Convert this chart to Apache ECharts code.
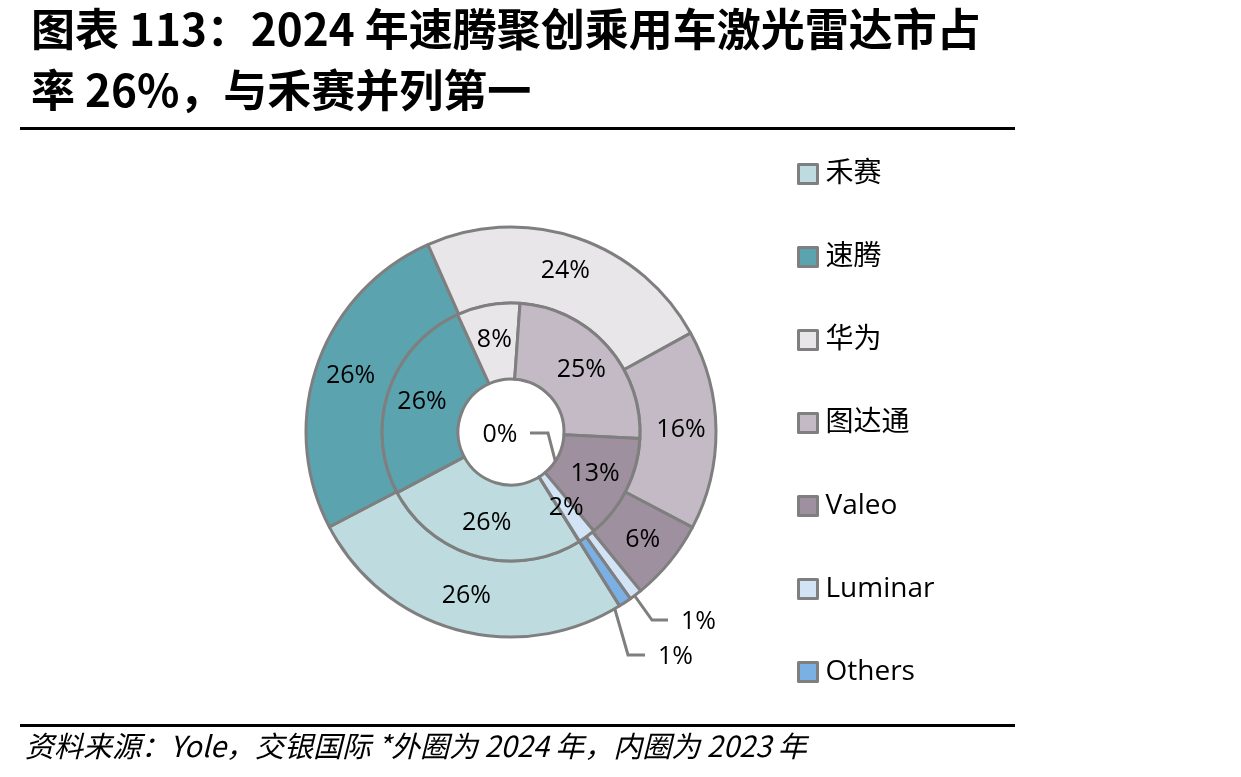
<!DOCTYPE html>
<html><head><meta charset="utf-8">
<script src="https://cdn.jsdelivr.net/npm/echarts@6/dist/echarts.min.js"></script>
<style>html,body{margin:0;padding:0;background:#fff;} #chart{width:1241px;height:777px;}</style>
</head><body><div id="chart"></div>
<script>
// ---- data ----
const categories = ['禾赛', '速腾', '华为', '图达通', 'Valeo', 'Luminar', 'Others'];
const share2024 = [26.2, 26.0, 23.6, 15.7, 6.4, 1.0, 1.0];   // outer ring
const share2023 = [26.1, 26.0, 7.9, 24.7, 13.1, 2.2, 0];     // inner ring
const colors = ['#BEDCDF', '#5BA3AF', '#E9E6EA', '#C3BAC6', '#9F909F', '#D1E3F4', '#7AB0E4'];
const titleText = '图表 113：2024 年速腾聚创乘用车激光雷达市占\n率 26%，与禾赛并列第一';
const sourceText = '资料来源：Yole，交银国际 *外圈为 2024 年，内圈为 2023 年';

// ---- layout / style ----
const CX = 511, CY = 432;
const BORDER = '#7F7F7F';
const LABEL_FONT = '"Open Sans", "Noto Sans", sans-serif';
const CJK_FONT = '"Noto Sans CJK SC", "Noto Sans", sans-serif';

function pct(p) { return Math.round(p.value) + '%'; }
function unit(pt) {
  const dx = pt[0] - CX, dy = pt[1] - CY;
  const l = Math.hypot(dx, dy) || 1;
  return [dx / l, dy / l];
}
function polarFrom(pt, r) { const n = unit(pt); return [CX + n[0] * r, CY + n[1] * r]; }

function makeData(values, outerIdx) {
  return values.map((v, i) => {
    const d = { name: categories[i], value: v, itemStyle: { color: colors[i] } };
    if (outerIdx.indexOf(i) >= 0) {
      d.label = { position: 'outside' };
      d.labelLine = { show: true, length: 10, length2: 10 };
    }
    return d;
  });
}

const chart = echarts.init(document.getElementById('chart'), null, { renderer: 'canvas' });

const commonSeries = {
  type: 'pie',
  center: [CX, CY],
  startAngle: -58,
  clockwise: true,
  avoidLabelOverlap: false,
  animation: false,
  silent: true,
  itemStyle: { borderColor: BORDER, borderWidth: 3 },
  label: { show: true, position: 'inside', formatter: pct, fontSize: 25, fontFamily: LABEL_FONT, color: '#000' },
  labelLine: { lineStyle: { color: BORDER, width: 3 } },
  emphasis: { disabled: true }
};

const option = {
  backgroundColor: '#fff',
  animation: false,
  title: {
    text: titleText,
    left: 26, top: -6,
    textStyle: { fontSize: 44, fontWeight: 'bold', fontFamily: CJK_FONT, color: '#000', lineHeight: 61 }
  },
  legend: {
    orient: 'vertical',
    left: 792, top: 154,
    itemWidth: 19, itemHeight: 19, itemGap: 53,
    icon: 'rect',
    data: categories,
    itemStyle: { borderColor: BORDER, borderWidth: 3 },
    textStyle: { fontSize: 28, lineHeight: 30, fontFamily: '"Open Sans", "Noto Sans CJK SC", sans-serif', color: '#000', padding: [0, 0, 0, 3] }
  },
  graphic: [
    { type: 'rect', shape: { x: 20, y: 127, width: 995, height: 3 }, style: { fill: '#000' } },
    { type: 'rect', shape: { x: 20, y: 724, width: 995, height: 3 }, style: { fill: '#000' } },
    { type: 'text', left: 25, top: 731, style: { text: sourceText, font: 'italic 29px "Noto Sans CJK SC"', fill: '#000' } }
  ],
  series: [
    Object.assign({}, commonSeries, {
      name: '2024',
      radius: [129, 205],
      data: makeData(share2024, [5, 6]),
      labelLayout: function (p) {
        if (p.dataIndex === 5 && p.labelLinePoints) {
          const s = polarFrom(p.labelLinePoints[0], 167);
          return { x: CX + 170, y: CY + 190, align: 'left', verticalAlign: 'middle',
            labelLinePoints: [s, [CX + 141, CY + 188], [CX + 157, CY + 188]] };
        }
        if (p.dataIndex === 6 && p.labelLinePoints) {
          const s = polarFrom(p.labelLinePoints[0], 167);
          return { x: CX + 147, y: CY + 225, align: 'left', verticalAlign: 'middle',
            labelLinePoints: [s, [CX + 117, CY + 223], [CX + 134, CY + 223]] };
        }
        return {};
      }
    }),
    Object.assign({}, commonSeries, {
      name: '2023',
      radius: [53, 129],
      data: makeData(share2023, [6]),
      labelLayout: function (p) {
        if (p.dataIndex === 6 && p.labelLinePoints) {
          const s = polarFrom(p.labelLinePoints[0], 118);
          return { x: CX - 11, y: CY + 3, align: 'center', verticalAlign: 'middle',
            labelLinePoints: [s, [CX + 37, CY + 1], [CX + 19, CY + 1]] };
        }
        return {};
      }
    })
  ]
};
chart.setOption(option);
</script>
</body></html>
